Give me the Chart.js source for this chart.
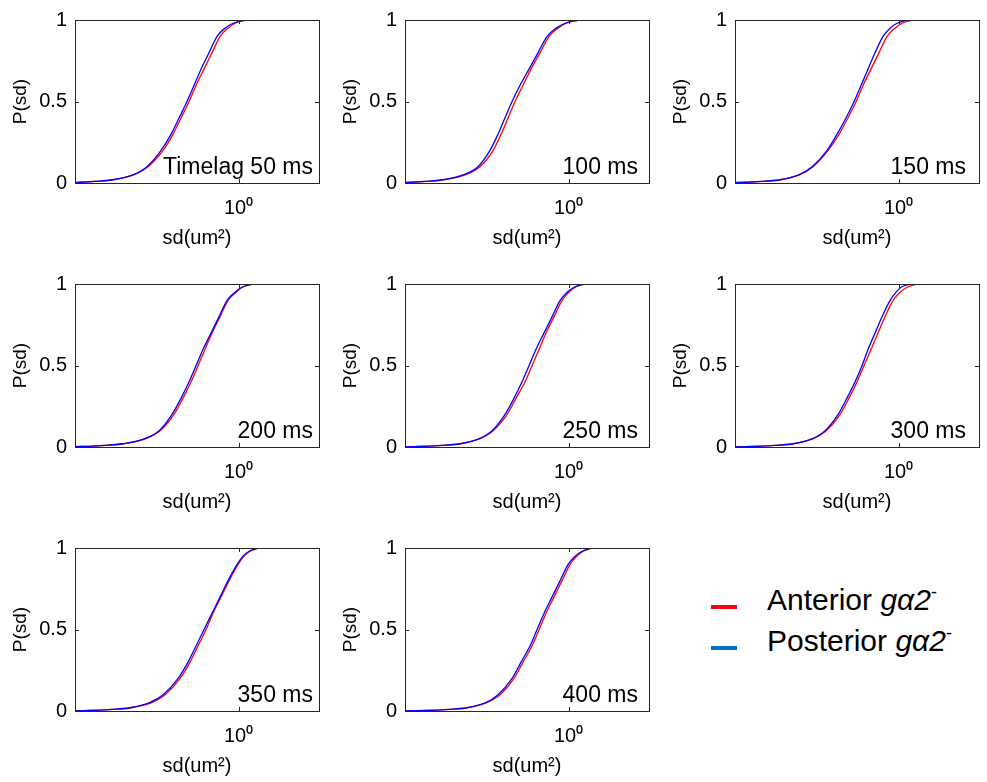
<!DOCTYPE html>
<html>
<head>
<meta charset="utf-8">
<script src="https://cdn.jsdelivr.net/npm/chart.js@4.4.1/dist/chart.umd.min.js"></script>
<style>
    body { margin: 0; background: #fff; width: 987px; height: 782px; overflow: hidden; position: relative;
           font-family: "Liberation Sans", Arial, sans-serif; }
    .panel { position: absolute; }
    .lg-mark { position: absolute; width: 26px; height: 4px; }
    .lg-text { position: absolute; font-size: 30px; line-height: 30px; color: #000; white-space: nowrap; }
    .lg-text i { font-style: italic; }
    .lg-text sup { font-size: 18px; vertical-align: 12px; line-height: 0; }
</style>
</head>
<body>
<div id="legend"></div>
<script>
/* cumulative probability levels shared by every curve */
const pLevels = [0, 0.003, 0.01, 0.02, 0.05, 0.1, 0.2, 0.3, 0.4, 0.5, 0.6, 0.7, 0.8, 0.9, 0.95, 0.98, 1];

/* sd (um^2) reached at each level */
const ant50   = [0.10, 0.118, 0.150, 0.190, 0.248, 0.302, 0.369, 0.421, 0.468, 0.520, 0.571, 0.634, 0.705, 0.784, 0.871, 0.956, 1.106];
const post50  = [0.10, 0.118, 0.150, 0.190, 0.248, 0.298, 0.359, 0.410, 0.456, 0.506, 0.556, 0.610, 0.678, 0.753, 0.837, 0.931, 1.091];
const ant100  = [0.10, 0.118, 0.152, 0.193, 0.255, 0.310, 0.369, 0.410, 0.450, 0.493, 0.548, 0.610, 0.687, 0.773, 0.871, 0.969, 1.150];
const post100 = [0.10, 0.118, 0.150, 0.190, 0.248, 0.302, 0.354, 0.394, 0.432, 0.474, 0.527, 0.594, 0.669, 0.753, 0.849, 0.956, 1.135];
const ant150  = [0.10, 0.121, 0.164, 0.209, 0.268, 0.323, 0.394, 0.456, 0.513, 0.571, 0.626, 0.696, 0.773, 0.860, 0.956, 1.049, 1.213];
const post150 = [0.10, 0.121, 0.164, 0.209, 0.268, 0.319, 0.389, 0.444, 0.500, 0.556, 0.610, 0.669, 0.734, 0.815, 0.895, 0.982, 1.135];
const ant200  = [0.10, 0.128, 0.171, 0.217, 0.291, 0.354, 0.426, 0.480, 0.534, 0.586, 0.643, 0.705, 0.784, 0.871, 0.969, 1.049, 1.213];
const post200 = [0.10, 0.128, 0.171, 0.217, 0.287, 0.350, 0.415, 0.468, 0.520, 0.571, 0.626, 0.696, 0.773, 0.860, 0.956, 1.049, 1.213];
const ant250  = [0.10, 0.140, 0.188, 0.238, 0.306, 0.369, 0.444, 0.500, 0.563, 0.618, 0.678, 0.743, 0.826, 0.919, 1.008, 1.091, 1.246];
const post250 = [0.10, 0.140, 0.188, 0.238, 0.306, 0.364, 0.432, 0.487, 0.541, 0.594, 0.651, 0.724, 0.805, 0.895, 0.982, 1.077, 1.229];
const ant300  = [0.10, 0.146, 0.195, 0.248, 0.319, 0.384, 0.462, 0.520, 0.578, 0.634, 0.696, 0.763, 0.837, 0.931, 1.021, 1.120, 1.279];
const post300 = [0.10, 0.146, 0.195, 0.248, 0.319, 0.379, 0.450, 0.506, 0.563, 0.618, 0.669, 0.734, 0.805, 0.895, 0.969, 1.035, 1.166];
const ant350  = [0.10, 0.140, 0.190, 0.241, 0.315, 0.379, 0.462, 0.527, 0.586, 0.651, 0.714, 0.794, 0.883, 0.995, 1.077, 1.166, 1.313];
const post350 = [0.10, 0.140, 0.188, 0.238, 0.306, 0.369, 0.450, 0.513, 0.571, 0.634, 0.705, 0.784, 0.871, 0.982, 1.063, 1.150, 1.296];
const ant400  = [0.10, 0.154, 0.206, 0.261, 0.336, 0.404, 0.487, 0.548, 0.618, 0.678, 0.743, 0.826, 0.919, 1.021, 1.120, 1.213, 1.367];
const post400 = [0.10, 0.154, 0.206, 0.261, 0.332, 0.394, 0.474, 0.534, 0.602, 0.660, 0.724, 0.805, 0.895, 0.995, 1.091, 1.197, 1.367];

const captions  = ["Timelag 50 ms", "100 ms", "150 ms", "200 ms", "250 ms", "300 ms", "350 ms", "400 ms"];
const anterior  = [ant50, ant100, ant150, ant200, ant250, ant300, ant350, ant400];
const posterior = [post50, post100, post150, post200, post250, post300, post350, post400];

const xTicks = [1];
const yTicks = [0, 0.5, 1];
const xRange = [0.115, 2.9];

const seriesNames  = ["Anterior", "Posterior"];
const lineColors   = ["rgb(255,0,0)", "rgb(0,0,255)"];
const legendColors = ["rgb(250,0,20)", "rgb(0,112,192)"];

/* layout */
const colLeft = [75, 405, 735];
const rowTop  = [18, 282, 546];
const captionInset = [6, 11, 13];
const FONT = '"Liberation Sans", Arial, sans-serif';
const SUP = {"0":"⁰","1":"¹","2":"²","3":"³","4":"⁴","5":"⁵","6":"⁶","7":"⁷","8":"⁸","9":"⁹","-":"⁻"};

Chart.defaults.font.family = FONT;
Chart.defaults.color = "#000";

const framePlugin = {
    id: "frame",
    afterDatasetsDraw (chart, args, opts) {
        const {ctx, chartArea: a} = chart;
        const x = chart.scales.x, y = chart.scales.y;
        ctx.save();
        ctx.strokeStyle = "#262626";
        ctx.lineWidth = 1;
        ctx.strokeRect(a.left + 0.5, a.top + 0.5, a.width, a.height);
        ctx.beginPath();
        for (const t of y.ticks) {
            const py = Math.round(y.getPixelForValue(t.value)) + 0.5;
            ctx.moveTo(a.left, py);  ctx.lineTo(a.left + 4, py);
            ctx.moveTo(a.right, py); ctx.lineTo(a.right - 4, py);
        }
        for (const t of x.ticks) {
            const px = Math.round(x.getPixelForValue(t.value)) + 0.5;
            ctx.moveTo(px, a.bottom); ctx.lineTo(px, a.bottom - 4);
            ctx.moveTo(px, a.top);    ctx.lineTo(px, a.top + 4);
        }
        ctx.stroke();
        ctx.font = "23px " + FONT;
        ctx.fillStyle = "#000";
        ctx.textAlign = "right";
        ctx.textBaseline = "alphabetic";
        ctx.fillText(opts.caption, a.right - opts.inset, a.bottom - 9);
        ctx.restore();
    }
};

function curve (sd) {
    return sd.map((v, i) => ({x: v, y: pLevels[i]}));
}

function makePanel (idx) {
    const col = idx % 3, row = Math.floor(idx / 3);
    const cv = document.createElement("canvas");
    cv.className = "panel";
    cv.width = 327; cv.height = 253;
    cv.style.left = (colLeft[col] - 75) + "px";
    cv.style.top  = (rowTop[row] - 18) + "px";
    cv.style.width = "327px"; cv.style.height = "253px";
    document.body.appendChild(cv);

    new Chart(cv.getContext("2d"), {
        type: "line",
        data: {
            datasets: [
                { label: seriesNames[1], data: curve(posterior[idx]), borderColor: lineColors[1], order: 0 },
                { label: seriesNames[0], data: curve(anterior[idx]),  borderColor: lineColors[0], order: 1 }
            ]
        },
        options: {
            responsive: false,
            devicePixelRatio: 1,
            animation: false,
            parsing: false,
            layout: { padding: { left: 0, top: 18, right: 8, bottom: 0 } },
            elements: {
                point: { radius: 0 },
                line: { borderWidth: 1.3, cubicInterpolationMode: "monotone", fill: false }
            },
            plugins: {
                legend: { display: false },
                tooltip: { enabled: false },
                frame: { caption: captions[idx], inset: captionInset[col] }
            },
            scales: {
                x: {
                    type: "logarithmic",
                    min: xRange[0], max: xRange[1],
                    grid: { display: false, drawTicks: false },
                    border: { display: false },
                    afterBuildTicks: s => { s.ticks = xTicks.map(v => ({value: v})); },
                    afterFit: s => { s.height = 70; },
                    ticks: {
                        font: { size: 20 }, padding: 13, maxRotation: 0,
                        callback: v => "10" + String(Math.round(Math.log10(v))).split("").map(c => SUP[c]).join("")
                    },
                    title: { display: true, text: "sd(um²)", font: { size: 20 }, padding: { top: 0, bottom: 3 } }
                },
                y: {
                    type: "linear",
                    min: 0, max: 1,
                    grid: { display: false, drawTicks: false },
                    border: { display: false },
                    afterBuildTicks: s => { s.ticks = yTicks.map(v => ({value: v})); },
                    afterFit: s => { s.width = 75; },
                    ticks: { font: { size: 20 }, padding: 8, callback: v => String(v) },
                    title: { display: true, text: "P(sd)", font: { size: 19 }, padding: { top: 9, bottom: 0 } }
                }
            }
        },
        plugins: [framePlugin]
    });
}

for (let i = 0; i < captions.length; i++) {
    makePanel(i);
}

/* legend */
const lg = document.getElementById("legend");
const lgTop = [605, 646];
for (let s = 0; s < seriesNames.length; s++) {
    const mk = document.createElement("div");
    mk.className = "lg-mark";
    mk.style.left = "711px";
    mk.style.top = lgTop[s] + "px";
    mk.style.background = legendColors[s];
    lg.appendChild(mk);
    const tx = document.createElement("div");
    tx.className = "lg-text";
    tx.style.left = "767px";
    tx.style.top = (lgTop[s] - 20) + "px";
    tx.innerHTML = seriesNames[s] + " <i>gα2</i><sup>-</sup>";
    lg.appendChild(tx);
}
</script>
</body>
</html>
